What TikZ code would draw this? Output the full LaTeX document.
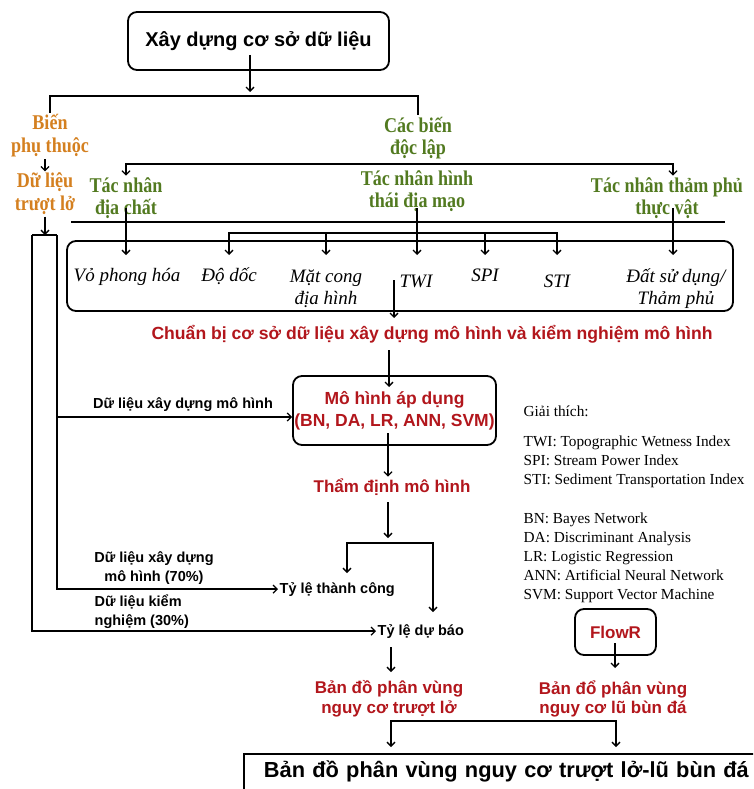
\documentclass[tikz,border=0pt]{standalone}
\usepackage{fontspec}
\setmainfont{Liberation Serif}
\setsansfont{Liberation Sans}
\newfontfamily\lblserif[FakeStretch=0.86]{Liberation Serif}
\usetikzlibrary{arrows.meta}
\definecolor{cOrange}{RGB}{212,128,32}
\definecolor{cGreen}{RGB}{82,122,32}
\definecolor{cRed}{RGB}{178,22,28}
\begin{document}
\begin{tikzpicture}[x=1pt,y=-1pt,line width=1.3pt,
  arr/.style={-{Straight Barb[length=4pt,width=8pt]}},
  barr/.style={{Straight Barb[length=4pt,width=8pt]}-{Straight Barb[length=4pt,width=8pt]}},
  box/.style={draw,line width=1.8pt,rounded corners=9pt},
  titletxt/.style={font=\sffamily\bfseries\fontsize{20}{24}\selectfont},
  orangetxt/.style={text=cOrange,font=\lblserif\bfseries\fontsize{21}{23}\selectfont,align=center,inner sep=1pt},
  greentxt/.style={text=cGreen,font=\lblserif\bfseries\fontsize{21}{22.5}\selectfont,align=center,inner sep=1pt},
  vartxt/.style={font=\itshape\fontsize{19}{22}\selectfont,align=center,inner sep=1pt},
  redtxt/.style={text=cRed,font=\sffamily\bfseries\fontsize{17}{19.5}\selectfont,align=center,inner sep=1pt},
  blktxt/.style={font=\sffamily\bfseries\fontsize{14.5}{19}\selectfont,inner sep=1pt},
  legtxt/.style={font=\fontsize{15.3}{19}\selectfont,anchor=base west,inner sep=0pt},
]
\clip (0,0) rectangle (753,789);

% ---------- top ----------
\node[box,titletxt,minimum width=261pt,minimum height=58pt] (db) at (258.5,41) {Xây dựng cơ sở dữ liệu};
\coordinate (dbout) at (250,55);
\coordinate (splitTip) at (250,92);
\coordinate (split) at (250,96);
\draw[arr] (dbout) -- (splitTip);

\node[orangetxt] (bien) at (50,136) {Biến\\phụ thuộc};
\node[greentxt] (doclap) at (418,138) {Các biến\\độc lập};
\draw (bien.north) |- (split) -| (doclap.north);

\node[orangetxt] (dulieu) at (45,194) {Dữ liệu\\trượt lở};
\draw[arr] (bien.south -| dulieu) -- (dulieu.north);

% ---------- factor groups ----------
\node[greentxt] (tn1) at (126,198) {Tác nhân\\địa chất};
\node[greentxt] (tn2) at (417,191) {Tác nhân hình\\thái địa mạo};
\node[greentxt] (tn3) at (667,198) {Tác nhân thảm phủ\\thực vật};
\coordinate (x3) at (673,0);
\coordinate (gbar) at (418,164);
\draw[barr] (tn1.north) |- (gbar) -| (x3 |- tn3.north);

\coordinate (sepL) at (71,222);
\coordinate (sepR) at (725,222);
\draw[line width=1.8pt] (sepL) -- (sepR);

% ---------- variables box ----------
\node[box,minimum width=666pt,minimum height=70pt] (bigbox) at (400,276) {};
\node[vartxt,anchor=base] (vp) at (127,281) {Vỏ phong hóa};
\node[vartxt,anchor=base] (dd) at (229,281) {Độ dốc};
\node[vartxt] (mc) at (326,289) {Mặt cong\\địa hình};
\node[vartxt,anchor=base] (twi) at (416,287) {TWI};
\node[vartxt,anchor=base] (spi) at (485,281) {SPI};
\node[vartxt,anchor=base] (sti) at (557,287) {STI};
\node[vartxt] (ds) at (676,289) {Đất sử dụng/\\Thảm phủ};

\coordinate (row1) at (0,208);
\coordinate (rowtip) at (0,255);
\coordinate (br) at (0,233);
\draw[arr] (tn1 |- row1) -- (tn1 |- rowtip);
\draw[arr] (tn2 |- row1) -- (tn2 |- rowtip);
\draw[arr] (x3 |- row1) -- (x3 |- rowtip);
\draw[barr] (dd |- rowtip) |- (sti |- br) -- (sti |- rowtip);
\draw[arr] (mc |- br) -- (mc |- rowtip);
\draw[arr] (spi |- br) -- (spi |- rowtip);

% ---------- preparation ----------
\node[redtxt,anchor=base,font=\sffamily\bfseries\fontsize{17.6}{20}\selectfont] (chuan) at (432,339) {Chuẩn bị cơ sở dữ liệu xây dựng mô hình và kiểm nghiệm mô hình};
\coordinate (bbout) at (394,280);
\coordinate (bbtip) at (394,318);
\draw[arr] (bbout) -- (bbtip);

\node[box,redtxt,font=\sffamily\bfseries\fontsize{17.5}{22}\selectfont,minimum width=203pt,minimum height=69pt] (model) at (394.5,410.5) {Mô hình áp dụng\\(BN, DA, LR, ANN, SVM)};
\coordinate (chout) at (389,350);
\coordinate (mtip) at (389,387);
\draw[arr] (chout) -- (mtip);

\node[redtxt,anchor=base] (tham) at (392,492) {Thẩm định mô hình};
\coordinate (mout) at (388,433);
\draw[arr] (mout) -- (mout |- tham.north);
\coordinate (thout) at (388,502);
\coordinate (thtip) at (388,538);
\draw[arr] (thout) -- (thtip);

\node[blktxt,anchor=base west] (tc) at (278,593) {Tỷ lệ thành công};
\node[blktxt,anchor=base west] (dbao) at (376,635) {Tỷ lệ dự báo};
\coordinate (tcTip) at (347,573);
\coordinate (dbTip) at (433,612);
\coordinate (brTop) at (0,543);
\draw[barr] (tcTip) |- (dbTip |- brTop) -- (dbTip);

% ---------- left data lines ----------
\coordinate (jOut) at (32,235);
\coordinate (jIn) at (57,235);
\coordinate (jMod) at (57,417);
\draw[arr] (dulieu.south) -- (dulieu.south |- jOut);
\draw (jOut) -- (jIn);
\draw[arr] (jOut) |- (dbao.west);
\draw[arr] (jIn) |- (tc.west);
\draw[arr] (jMod) -- (jMod -| model.west);

\node[blktxt,anchor=base] (lbl1) at (183,408) {Dữ liệu xây dựng mô hình};
\node[blktxt,align=center] (lbl2) at (154,568) {Dữ liệu xây dựng\\mô hình (70\%)};
\node[blktxt,align=left,anchor=west] (lbl3) at (93,612) {Dữ liệu kiểm\\nghiệm (30\%)};

% ---------- legend ----------
\foreach \i/\yy/\t in {1/416/{Giải thích:},2/446/{TWI: Topographic Wetness Index},3/465/{SPI: Stream Power Index},4/484/{STI: Sediment Transportation Index},5/523/{BN: Bayes Network},6/542/{DA: Discriminant Analysis},7/561/{LR: Logistic Regression},8/580/{ANN: Artificial Neural Network},9/599/{SVM: Support Vector Machine}}
  \node[legtxt] (leg\i) at (523,\yy) {\t};

% ---------- maps ----------
\coordinate (dbout2) at (391,647);
\coordinate (bd1tip) at (391,672);
\draw[arr] (dbout2) -- (bd1tip);
\node[redtxt] (bd1) at (389,699) {Bản đồ phân vùng\\nguy cơ trượt lở};

\node[box,redtxt,minimum width=81pt,minimum height=46pt] (flowr) at (615.5,632) {FlowR};
\coordinate (fout) at (615,643);
\coordinate (ftip) at (615,668);
\draw[arr] (fout) -- (ftip);
\node[redtxt] (bd2) at (613,699) {Bản đổ phân vùng\\nguy cơ lũ bùn đá};

\node[draw,line width=1.8pt,anchor=north west,font=\sffamily\bfseries\fontsize{21.8}{25}\selectfont,text width=520pt,align=left,inner xsep=20pt,inner ysep=8pt,text height=16pt,text depth=30pt] (final) at (243,753) {Bản đồ phân vùng nguy cơ trượt lở-lũ bùn đá};
\coordinate (fL) at (391,721);
\coordinate (fR) at (616,721);
\coordinate (ftipy) at (0,747);
\draw[barr] (fL |- ftipy) -- (fL) -- (fR) -- (fR |- ftipy);
\end{tikzpicture}
\end{document}
